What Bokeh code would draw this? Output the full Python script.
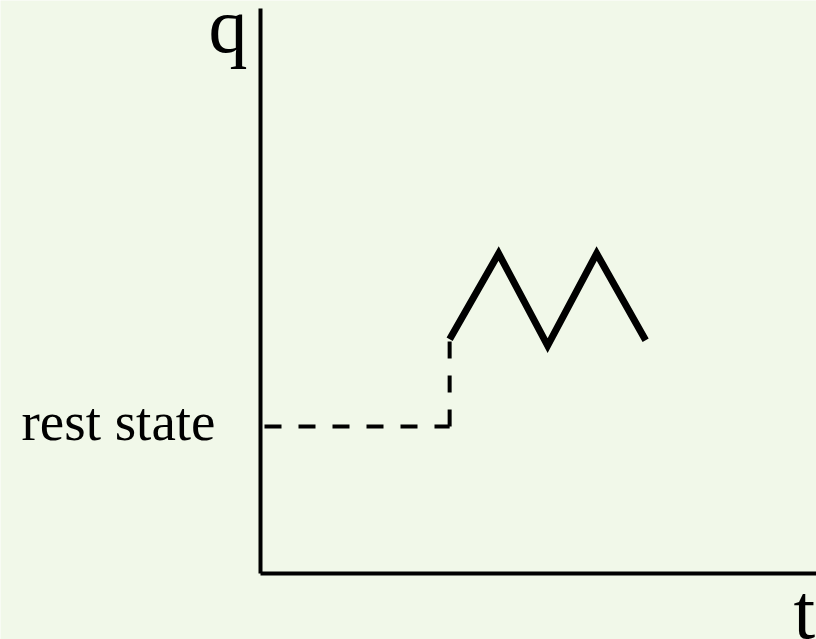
from bokeh.plotting import figure
from bokeh.models import Range1d, FixedTicker, Label
from bokeh.embed import file_html
from bokeh.resources import INLINE

# ---- data (schematic units) ----
zig_t = [3.86, 4.86, 5.86, 6.86, 7.86]
zig_q = [4.78, 6.53, 4.65, 6.53, 4.76]
rest_q = 3.0
rest_t_start = 0.0
jump_t = 3.86
jump_q = 4.78
rest_label = "rest state"
x_label = "t"
y_label = "q"

BG = "#F1F8E9"
FONT = "Liberation Serif"
U = 49.0  # pixels per unit

x_start, x_end = -260 / U, 556 / U
y_start, y_end = -66 / U, 573 / U
y_axis_top = 565 / U
label_nudge = 5 / U  # small upward nudge so the text centres on the dashed line

p = figure(width=816, height=639, output_backend="svg", toolbar_location=None,
           x_range=Range1d(x_start, x_end), y_range=Range1d(y_start, y_end),
           min_border_left=0, min_border_bottom=0, min_border_top=0, min_border_right=0,
           background_fill_color=BG, border_fill_color=BG)
p.outline_line_color = None
p.grid.visible = False

# axes drawn at the origin
for ax in (p.xaxis[0], p.yaxis[0]):
    ax.fixed_location = 0
    ax.axis_line_width = 4
    ax.axis_line_color = "black"
    ax.major_tick_line_color = None
    ax.minor_tick_line_color = None
    ax.major_tick_in = 0
    ax.major_tick_out = 0
    ax.minor_tick_in = 0
    ax.minor_tick_out = 0

p.xaxis.bounds = (0, x_end)
p.xaxis.ticker = FixedTicker(ticks=[])
p.xaxis.major_label_text_color = None

tick_pos = rest_q + label_nudge
p.yaxis.bounds = (0, y_axis_top)
p.yaxis.ticker = FixedTicker(ticks=[tick_pos])
p.yaxis.major_label_overrides = {tick_pos: rest_label}
p.yaxis.major_label_text_font = FONT
p.yaxis.major_label_text_font_size = "55px"
p.yaxis.major_label_text_color = "black"
p.yaxis.major_label_standoff = 45

# dashed rest-state lines
p.line([rest_t_start, jump_t], [rest_q, rest_q], line_color="black", line_width=4,
       line_dash="17 17", line_dash_offset=30, line_cap="butt")
p.line([jump_t, jump_t], [rest_q, jump_q], line_color="black", line_width=4,
       line_dash="17 17", line_cap="butt")

# zigzag
p.line(zig_t, zig_q, line_color="black", line_width=7, line_join="miter", line_cap="butt")

# axis letters
p.add_layout(Label(x=-13 / U, y=548 / U, text=y_label, text_font=FONT, text_font_size="78px",
                   text_align="right", text_baseline="alphabetic", text_color="black"))
p.add_layout(Label(x=533 / U, y=-38 / U, text=x_label, text_font=FONT, text_font_size="78px",
                   text_align="left", text_baseline="alphabetic", text_color="black"))

html = file_html(p, INLINE)
if "<body>" in html:
    html = html.replace("<body>", '<body style="background-color:%s">' % BG, 1)
open("out.html", "w").write(html)
